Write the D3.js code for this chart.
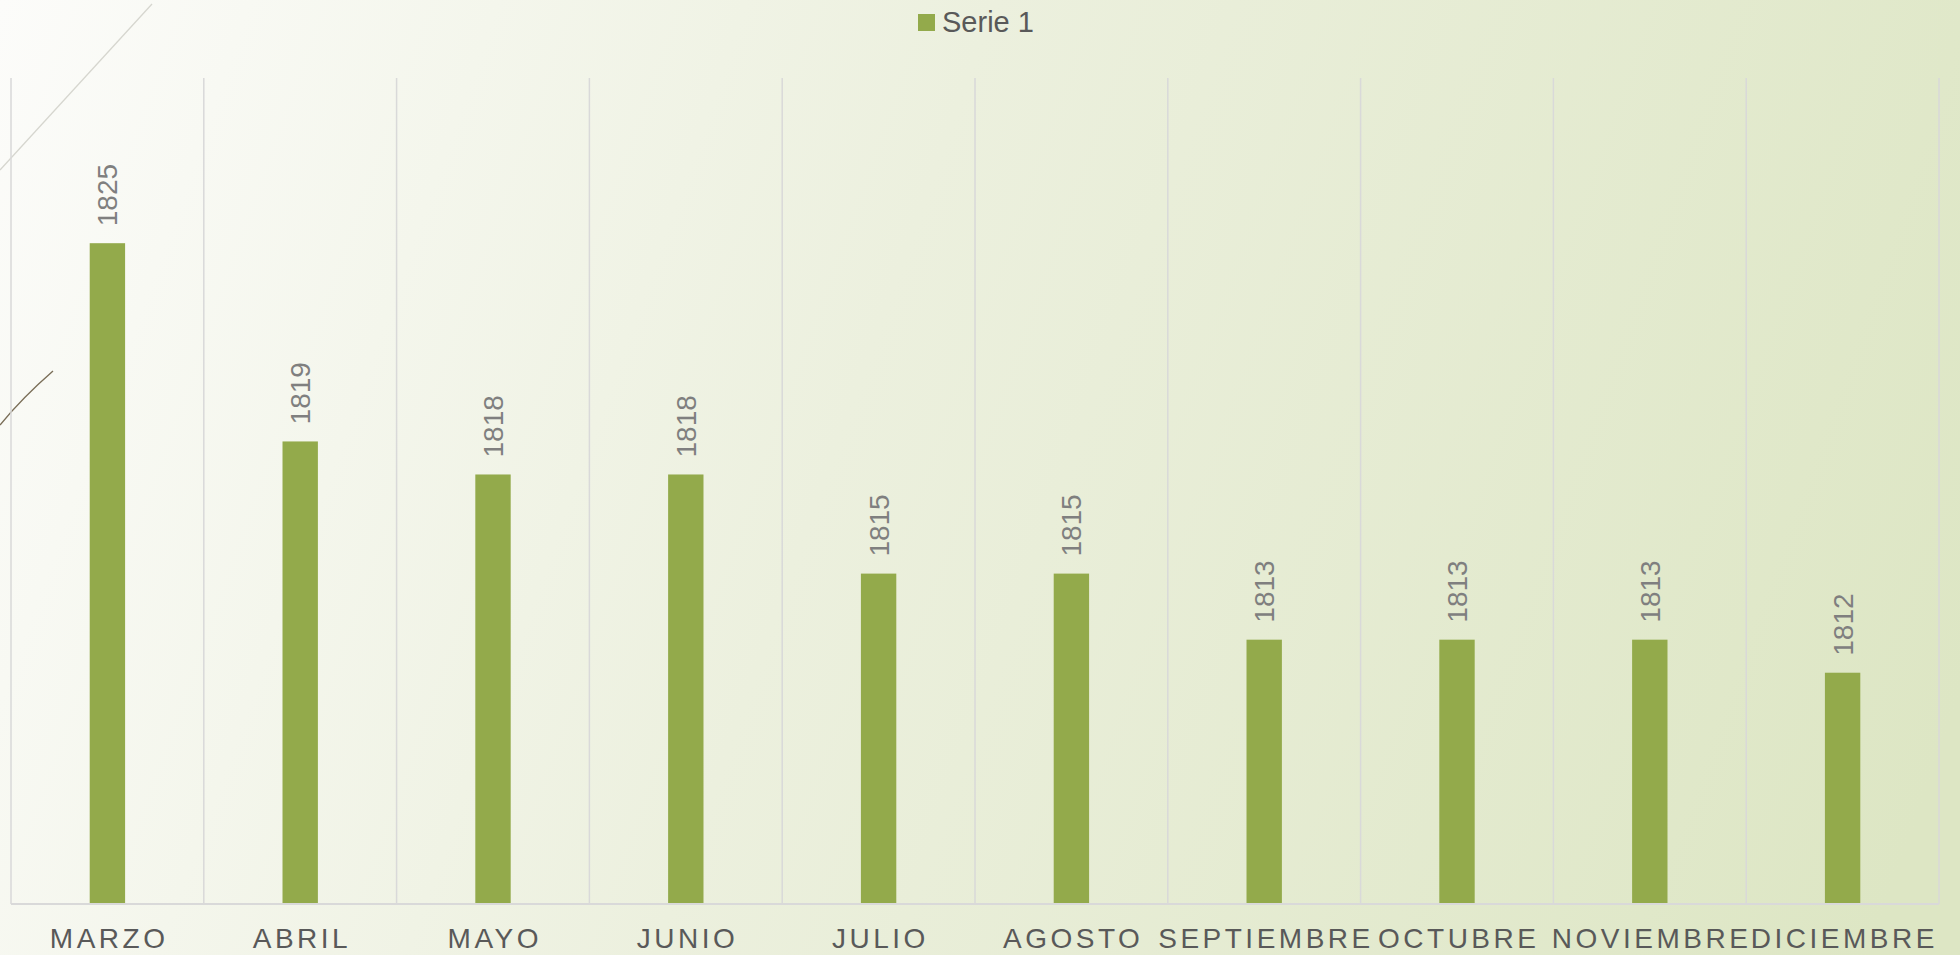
<!DOCTYPE html>
<html>
<head>
<meta charset="utf-8">
<script src="https://cdn.jsdelivr.net/npm/d3@7"></script>
<style>
    html, body { margin: 0; padding: 0; overflow: hidden; }
    svg { display: block; font-family: "Liberation Sans", Arial, sans-serif; }
</style>
</head>
<body>
<svg id="chart"></svg>
<script>
    var categories = ['MARZO', 'ABRIL', 'MAYO', 'JUNIO', 'JULIO', 'AGOSTO',
        'SEPTIEMBRE', 'OCTUBRE', 'NOVIEMBRE', 'DICIEMBRE'];
    var serie1 = [1825, 1819, 1818, 1818, 1815, 1815, 1813, 1813, 1813, 1812];
    var seriesName = 'Serie 1';
    var yDomain = [1805, 1830];

    var width = 1960;
    var height = 955;
    var plotLeft = 11;
    var plotRight = 1939;
    var plotTop = 78;
    var baseLine = 904;
    var barColor = '#93aa4b';
    var gridColor = '#d9d9d9';

    var svg = d3.select('#chart')
        .attr('width', width)
        .attr('height', height);

    // background
    var defs = svg.append('defs');
    var grad = defs.append('linearGradient')
        .attr('id', 'bg')
        .attr('gradientUnits', 'userSpaceOnUse')
        .attr('x1', 0).attr('y1', 0)
        .attr('x2', width).attr('y2', 700);
    grad.append('stop').attr('offset', 0).attr('stop-color', '#fcfcfa');
    grad.append('stop').attr('offset', 0.45).attr('stop-color', '#ecf0de');
    grad.append('stop').attr('offset', 1).attr('stop-color', '#dde6c4');

    svg.append('rect')
        .attr('width', width)
        .attr('height', height)
        .attr('fill', 'url(#bg)');

    // theme decoration lines, top left
    svg.append('path')
        .attr('d', 'M0,170 L152,4')
        .attr('stroke', '#d6d6cf')
        .attr('stroke-width', 1.3)
        .attr('fill', 'none');
    svg.append('path')
        .attr('d', 'M0,425 Q22,398 53,371')
        .attr('stroke', '#7a6e58')
        .attr('stroke-width', 1.4)
        .attr('fill', 'none');

    var x = d3.scaleBand()
        .domain(categories)
        .range([plotLeft, plotRight])
        .padding(0);

    var y = d3.scaleLinear()
        .domain(yDomain)
        .range([baseLine, plotTop]);

    var barWidth = x.bandwidth() * 0.1835;

    // vertical gridlines at category edges
    var edges = categories.map(function (c) { return x(c); });
    edges.push(plotRight);
    svg.selectAll('line.grid')
        .data(edges)
        .enter()
        .append('line')
        .classed('grid', true)
        .attr('x1', function (d) { return d; })
        .attr('x2', function (d) { return d; })
        .attr('y1', plotTop)
        .attr('y2', baseLine)
        .attr('stroke', gridColor)
        .attr('stroke-width', 1.5);

    svg.selectAll('rect.bar')
        .data(serie1)
        .enter()
        .append('rect')
        .classed('bar', true)
        .attr('x', function (d, i) {
            return x(categories[i]) + (x.bandwidth() - barWidth) / 2;
        })
        .attr('y', function (d) { return y(d); })
        .attr('width', barWidth)
        .attr('height', function (d) { return baseLine - y(d); })
        .attr('fill', barColor);

    svg.append('line')
        .attr('x1', plotLeft)
        .attr('x2', plotRight)
        .attr('y1', baseLine)
        .attr('y2', baseLine)
        .attr('stroke', gridColor)
        .attr('stroke-width', 2);

    // rotated value labels
    svg.selectAll('text.value')
        .data(serie1)
        .enter()
        .append('text')
        .classed('value', true)
        .text(function (d) { return d; })
        .attr('transform', function (d, i) {
            var cx = x(categories[i]) + x.bandwidth() / 2 + 10;
            return 'translate(' + cx + ',' + (y(d) - 17) + ') rotate(-90)';
        })
        .attr('font-size', 28)
        .attr('fill', '#7f7f7f');

    // category axis
    var xAxis = svg.append('g')
        .attr('transform', 'translate(0,' + baseLine + ')')
        .call(d3.axisBottom(x).tickSize(0));
    xAxis.select('.domain').remove();
    xAxis.selectAll('text')
        .attr('y', 44)
        .attr('dy', 0)
        .attr('dx', 1.75)
        .attr('font-size', 28)
        .attr('font-family', '"Liberation Sans", Arial, sans-serif')
        .attr('letter-spacing', '3.5px')
        .attr('fill', '#595959');

    // legend
    var legend = svg.append('g');
    legend.append('rect')
        .attr('x', 918)
        .attr('y', 14)
        .attr('width', 17)
        .attr('height', 17)
        .attr('fill', barColor);
    legend.append('text')
        .attr('x', 942)
        .attr('y', 32)
        .attr('font-size', 29)
        .attr('fill', '#595959')
        .text(seriesName);
</script>
</body>
</html>
